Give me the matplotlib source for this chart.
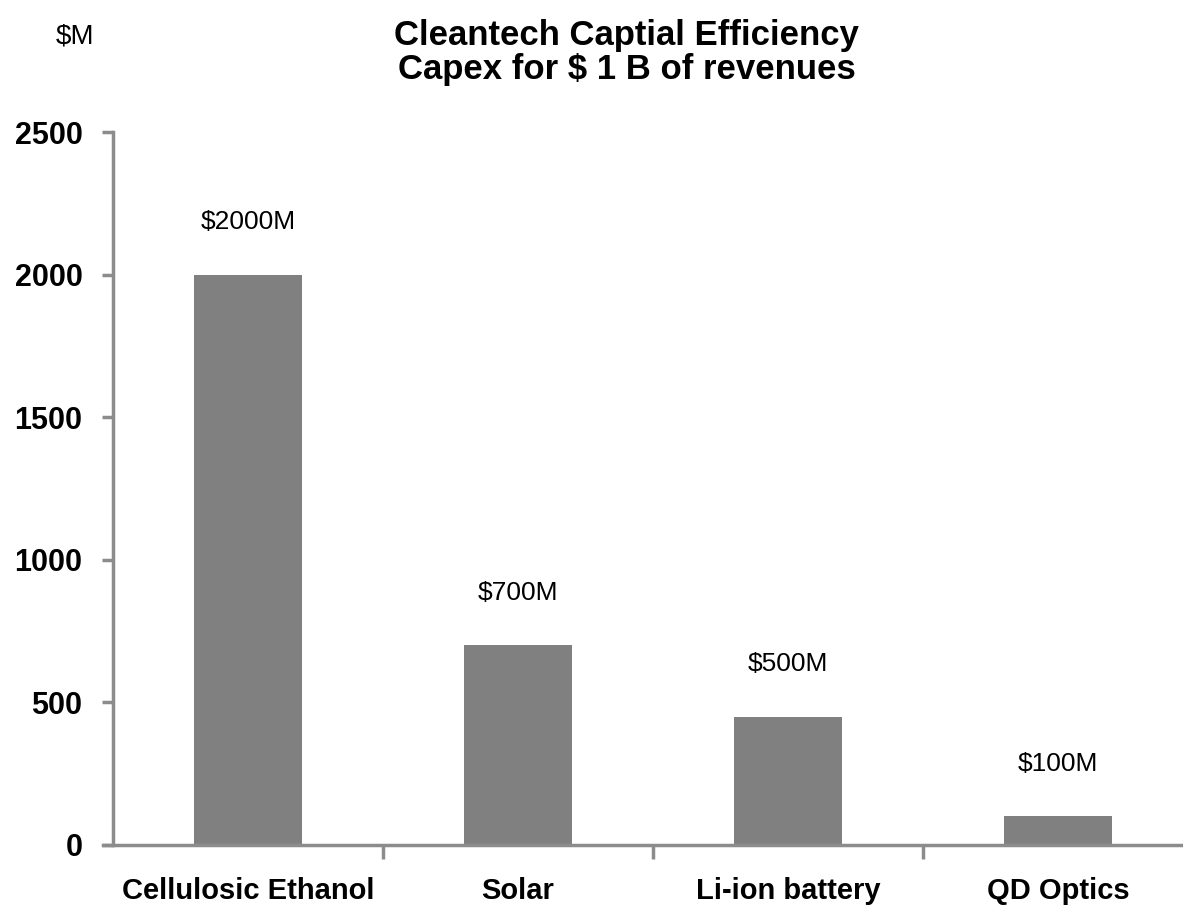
import matplotlib.pyplot as plt

categories = ["Cellulosic Ethanol", "Solar", "Li-ion battery", "QD Optics"]
capex = [2000, 700, 450, 100]
value_labels = ["$2000M", "$700M", "$500M", "$100M"]
yticks = [0, 500, 1000, 1500, 2000, 2500]

plt.rcParams['font.family'] = ['Liberation Sans', 'DejaVu Sans']

fig = plt.figure(figsize=(11.83, 9.07), dpi=100)
ax = fig.add_axes([113 / 1183, 62 / 907, 1080 / 1183, 713 / 907])

x = range(len(categories))
bars = ax.bar(x, capex, width=0.4, color="#808080", zorder=2)

for b, lab in zip(bars, value_labels):
    ax.annotate(lab, (b.get_x() + b.get_width() / 2, b.get_height()),
                xytext=(0, 38), textcoords="offset points",
                ha="center", va="center", fontsize=19)

ax.set_xlim(-0.5, len(categories) - 0.5)
ax.set_ylim(0, 2500)

ax.set_yticks(yticks)
ax.set_yticklabels([str(v) for v in yticks], fontsize=22, fontweight="bold")
ax.tick_params(axis="y", length=8, width=2.5, color="#8c8c8c", pad=14)

# category labels at centres, tick marks at boundaries
ax.set_xticks(list(x))
ax.set_xticklabels(categories, fontsize=21, fontweight="bold")
ax.tick_params(axis="x", which="major", length=0, pad=23)
ax.set_xticks([i + 0.5 for i in range(len(categories) - 1)], minor=True)
ax.tick_params(axis="x", which="minor", length=10, width=2.5, color="#8c8c8c")

for side in ["top", "right"]:
    ax.spines[side].set_visible(False)
for side in ["left", "bottom"]:
    ax.spines[side].set_color("#8c8c8c")
    ax.spines[side].set_linewidth(2.5)
ax.spines["bottom"].set_bounds(-0.5 - 10 / 270, len(categories) - 0.5)

fig.text(627 / 1183, 1 - 35 / 907, "Cleantech Captial Efficiency",
         ha="center", va="center", fontsize=25, fontweight="bold")
fig.text(627 / 1183, 1 - 70 / 907, "Capex for $ 1 B of revenues",
         ha="center", va="center", fontsize=25, fontweight="bold")
fig.text(75 / 1183, 1 - 36 / 907, "$M", ha="center", va="center", fontsize=20)

fig.savefig("out.png", dpi=100)
